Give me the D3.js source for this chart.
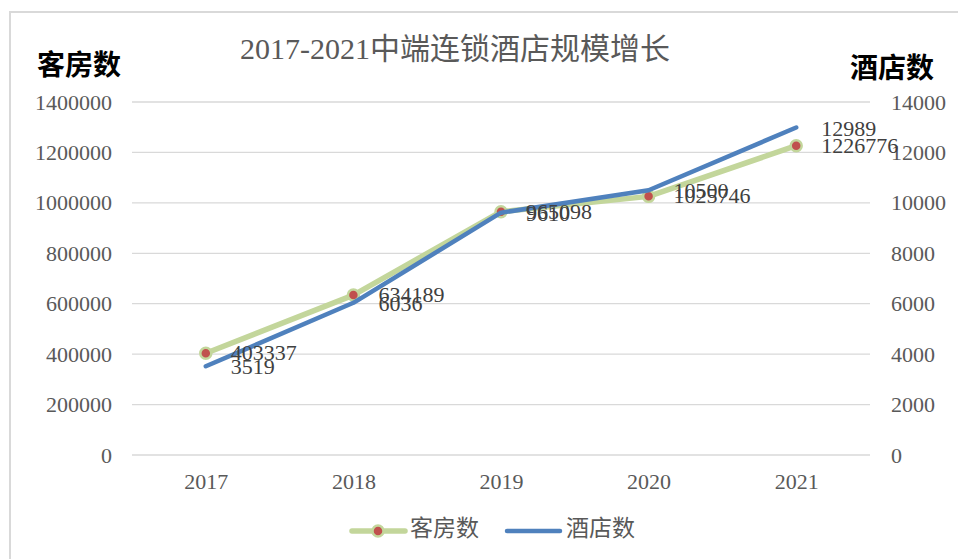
<!DOCTYPE html>
<html><head><meta charset="utf-8">
<script src="https://cdn.jsdelivr.net/npm/d3@7"></script>
<style>
html,body{margin:0;padding:0;background:#fff;}
svg{display:block;}
</style>
</head><body>
<svg id="chart" width="958" height="559"></svg>
<script>
const title = "2017-2021中端连锁酒店规模增长";
const years = ["2017","2018","2019","2020","2021"];
const rooms = [403337, 634189, 965098, 1025746, 1226776];
const hotels = [3519, 6036, 9610, 10500, 12989];
const leftTicks = [0,200000,400000,600000,800000,1000000,1200000,1400000];
const rightTicks = [0,2000,4000,6000,8000,10000,12000,14000];
const seriesNames = ["客房数","酒店数"];

const svg = d3.select("#chart");
const serif = "'Liberation Serif','Times New Roman','Noto Sans CJK SC',serif";
const W = 958, H = 559;
const plot = {left:132, right:870, top:102, bottom:455};
const green = "#C3D69B", red = "#C0504D", blue = "#4F81BD";

// border
svg.append("path").attr("d", `M10,${H} L10,12 L${W},12`).attr("fill","none")
  .attr("stroke","#d9d9d9").attr("stroke-width",2);

const x = d3.scalePoint().domain(years).range([plot.left, plot.right]).padding(0.5);
const yL = d3.scaleLinear().domain([0,1400000]).range([plot.bottom, plot.top]);
const yR = d3.scaleLinear().domain([0,14000]).range([plot.bottom, plot.top]);

// gridlines
svg.append("g").selectAll("line").data(leftTicks).join("line")
  .attr("x1", plot.left).attr("x2", plot.right)
  .attr("y1", d=>yL(d)).attr("y2", d=>yL(d))
  .attr("stroke","#d9d9d9").attr("stroke-width",1.3);

// left axis
const axL = svg.append("g").attr("transform",`translate(${plot.left},0)`)
  .call(d3.axisLeft(yL).tickValues(leftTicks).tickFormat(d=>String(d)).tickSize(0).tickPadding(20));
axL.select(".domain").remove();
axL.selectAll("text").attr("font-family",serif).attr("font-size",22).attr("fill","#595959");

// right axis
const axR = svg.append("g").attr("transform",`translate(${plot.right},0)`)
  .call(d3.axisRight(yR).tickValues(rightTicks).tickFormat(d=>String(d)).tickSize(0).tickPadding(21));
axR.select(".domain").remove();
axR.selectAll("text").attr("font-family",serif).attr("font-size",22).attr("fill","#595959");

// bottom axis
const axB = svg.append("g").attr("transform",`translate(0,${plot.bottom})`)
  .call(d3.axisBottom(x).tickSize(0).tickPadding(18));
axB.select(".domain").remove();
axB.selectAll("text").attr("font-family",serif).attr("font-size",22).attr("fill","#595959");

// green series
const lineL = d3.line().x((d,i)=>x(years[i])).y(d=>yL(d));
svg.append("path").datum(rooms).attr("d", lineL).attr("fill","none")
  .attr("stroke", green).attr("stroke-width",5.5).attr("stroke-linecap","round").attr("stroke-linejoin","round");
svg.append("g").selectAll("circle").data(rooms).join("circle")
  .attr("cx",(d,i)=>x(years[i])).attr("cy",d=>yL(d)).attr("r",5.5)
  .attr("fill",red).attr("stroke",green).attr("stroke-width",2.5);

// blue series
const lineR = d3.line().x((d,i)=>x(years[i])).y(d=>yR(d));
svg.append("path").datum(hotels).attr("d", lineR).attr("fill","none")
  .attr("stroke", blue).attr("stroke-width",4.5).attr("stroke-linecap","round").attr("stroke-linejoin","round");

// labels
svg.append("g").selectAll("text").data(rooms).join("text")
  .attr("x",(d,i)=>x(years[i])+25).attr("y",d=>yL(d)+2)
  .attr("dominant-baseline","middle").attr("font-family",serif).attr("font-size",22)
  .attr("fill","#404040").text(d=>d);
svg.append("g").selectAll("text").data(hotels).join("text")
  .attr("x",(d,i)=>x(years[i])+25).attr("y",d=>yR(d)+3)
  .attr("dominant-baseline","middle").attr("font-family",serif).attr("font-size",22)
  .attr("fill","#404040").text(d=>d);

// title
svg.append("text").attr("x",455).attr("y",52).attr("text-anchor","middle")
  .attr("dominant-baseline","middle").attr("font-family",serif).attr("font-size",30)
  .attr("fill","#595959").text(title);

// axis titles
svg.append("text").attr("x",79).attr("y",67).attr("text-anchor","middle")
  .attr("dominant-baseline","middle").attr("font-family","'Noto Sans CJK SC',sans-serif")
  .attr("font-size",28).attr("font-weight","bold").attr("fill","#000").text(seriesNames[0]);
svg.append("text").attr("x",892).attr("y",70).attr("text-anchor","middle")
  .attr("dominant-baseline","middle").attr("font-family","'Noto Sans CJK SC',sans-serif")
  .attr("font-size",28).attr("font-weight","bold").attr("fill","#000").text(seriesNames[1]);

// legend
const lg = svg.append("g");
const ly = 531;
lg.append("line").attr("x1",352).attr("x2",405).attr("y1",ly).attr("y2",ly)
  .attr("stroke",green).attr("stroke-width",5.5).attr("stroke-linecap","round");
lg.append("circle").attr("cx",378).attr("cy",ly).attr("r",5.5).attr("fill",red)
  .attr("stroke",green).attr("stroke-width",2.5);
lg.append("text").attr("x",410).attr("y",ly).attr("dominant-baseline","middle")
  .attr("font-family",serif).attr("font-size",23).attr("fill","#595959").text(seriesNames[0]);
lg.append("line").attr("x1",507).attr("x2",560).attr("y1",ly).attr("y2",ly)
  .attr("stroke",blue).attr("stroke-width",4.5).attr("stroke-linecap","round");
lg.append("text").attr("x",566).attr("y",ly).attr("dominant-baseline","middle")
  .attr("font-family",serif).attr("font-size",23).attr("fill","#595959").text(seriesNames[1]);
</script>
</body></html>
